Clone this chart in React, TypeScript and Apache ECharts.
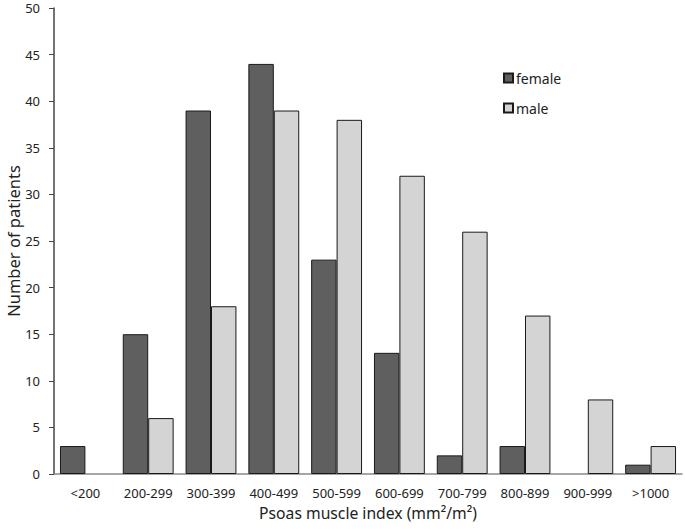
import React, { useEffect, useRef } from "react";
import * as echarts from "echarts";

const categories = ["<200", "200-299", "300-399", "400-499", "500-599", "600-699", "700-799", "800-899", "900-999", ">1000"];
const female = [3, 15, 39, 44, 23, 13, 2, 3, 0, 1];
const male = [0, 6, 18, 39, 38, 32, 26, 17, 8, 3];
const yTicks = { min: 0, max: 50, interval: 5 };

const FONT = "Noto Sans";
const hideZero = (arr: number[]) => arr.map((v) => (v === 0 ? "-" : v));

export default function App() {
  const ref = useRef<HTMLDivElement>(null);
  useEffect(() => {
    const chart = echarts.init(ref.current!, undefined, { renderer: "svg" });
    chart.setOption({
      animation: false,
      textStyle: { fontFamily: FONT },
      grid: { left: 54, right: 3, top: 8, bottom: 55, containLabel: false, outerBoundsMode: "none" },
      legend: {
        orient: "vertical",
        left: 498,
        top: 66,
        itemWidth: 9,
        itemHeight: 9,
        itemGap: 16,
        icon: "rect",
        textStyle: { fontSize: 14, color: "#222", fontFamily: FONT, padding: [0, 0, 0, -2] },
        data: ["female", "male"],
      },
      xAxis: {
        type: "category",
        data: categories,
        axisLine: { lineStyle: { color: "#888", width: 1.5 } },
        axisTick: { show: false },
        axisLabel: { color: "#222", fontSize: 13, margin: 12, interval: 0 },
        name: "Psoas muscle index (mm²/m²)",
        nameLocation: "middle",
        nameGap: 31,
        nameMoveOverlap: false,
        nameTextStyle: { fontSize: 15.7, color: "#222" },
      },
      yAxis: {
        type: "value",
        min: yTicks.min,
        max: yTicks.max,
        interval: yTicks.interval,
        splitLine: { show: false },
        axisLine: { show: true, lineStyle: { color: "#444", width: 1.5 } },
        axisTick: { show: true, length: 5, lineStyle: { color: "#444" } },
        axisLabel: { color: "#222", fontSize: 13, margin: 14 },
        name: "Number of patients",
        nameLocation: "middle",
        nameGap: 32,
        nameMoveOverlap: false,
        nameTextStyle: { fontSize: 16.5, color: "#222" },
      },
      series: [
        {
          name: "female",
          type: "bar",
          data: hideZero(female),
          barGap: "0%",
          barCategoryGap: "19%",
          itemStyle: { color: "#5f5f5f", borderColor: "#1a1a1a", borderWidth: 1 },
        },
        {
          name: "male",
          type: "bar",
          data: hideZero(male),
          barGap: "0%",
          barCategoryGap: "19%",
          itemStyle: { color: "#d4d4d4", borderColor: "#1a1a1a", borderWidth: 1 },
        },
      ],
    });
    return () => chart.dispose();
  }, []);
  return <div ref={ref} style={{ width: 685, height: 529, position: "absolute", left: 0, top: 0, background: "#fff" }} />;
}
